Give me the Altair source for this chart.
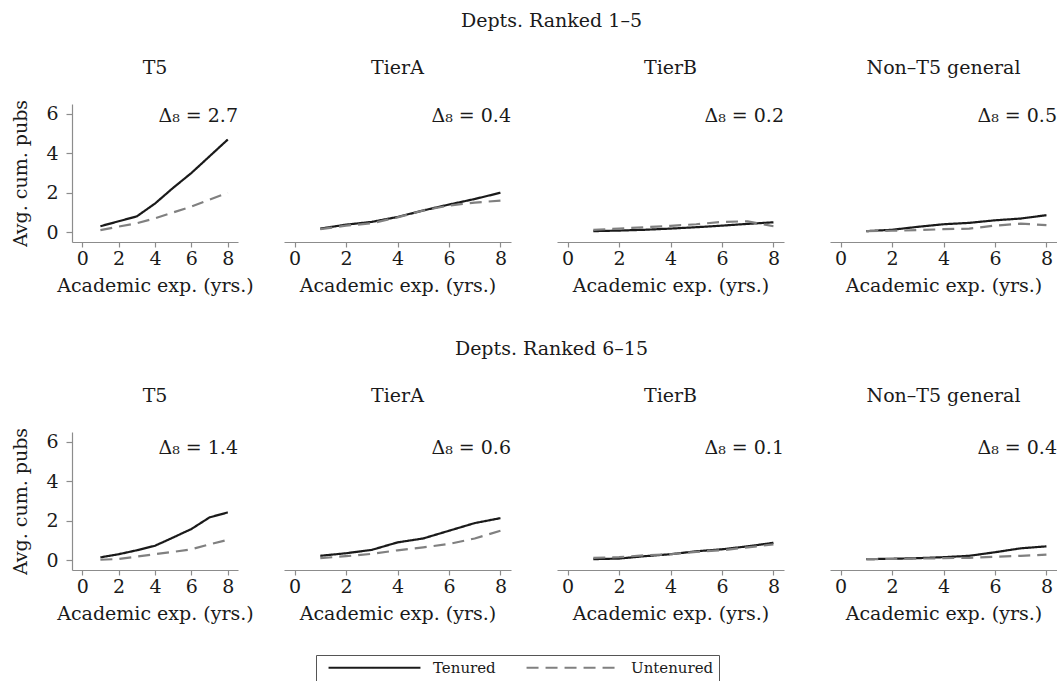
import altair as alt
import pandas as pd

years = [1, 2, 3, 4, 5, 6, 7, 8]
group_titles = ["Depts. Ranked 1–5", "Depts. Ranked 6–15"]
panel_titles = ["T5", "TierA", "TierB", "Non–T5 general"]
status_labels = ["Tenured", "Untenured"]
x_ticks = [0, 2, 4, 6, 8]
y_ticks = [0, 2, 4, 6]

# Depts. Ranked 1-5
top_t5_ten = [0.30, 0.55, 0.80, 1.45, 2.25, 3.00, 3.85, 4.70]
top_t5_unt = [0.10, 0.28, 0.45, 0.70, 1.00, 1.30, 1.65, 2.00]
top_ta_ten = [0.18, 0.38, 0.52, 0.77, 1.10, 1.40, 1.68, 2.00]
top_ta_unt = [0.15, 0.33, 0.45, 0.75, 1.10, 1.35, 1.50, 1.60]
top_tb_ten = [0.05, 0.08, 0.12, 0.18, 0.25, 0.33, 0.42, 0.50]
top_tb_unt = [0.12, 0.18, 0.25, 0.32, 0.40, 0.52, 0.55, 0.30]
top_ng_ten = [0.05, 0.12, 0.27, 0.40, 0.47, 0.60, 0.69, 0.86]
top_ng_unt = [0.05, 0.07, 0.10, 0.15, 0.18, 0.33, 0.43, 0.36]
top_deltas = ["2.7", "0.4", "0.2", "0.5"]

# Depts. Ranked 6-15
mid_t5_ten = [0.14, 0.30, 0.50, 0.73, 1.15, 1.58, 2.17, 2.42]
mid_t5_unt = [0.02, 0.06, 0.18, 0.30, 0.42, 0.55, 0.80, 1.03]
mid_ta_ten = [0.22, 0.35, 0.52, 0.90, 1.10, 1.49, 1.88, 2.13]
mid_ta_unt = [0.10, 0.20, 0.32, 0.50, 0.65, 0.82, 1.10, 1.49]
mid_tb_ten = [0.05, 0.08, 0.20, 0.30, 0.45, 0.55, 0.70, 0.88]
mid_tb_unt = [0.12, 0.15, 0.25, 0.30, 0.42, 0.50, 0.65, 0.80]
mid_ng_ten = [0.05, 0.07, 0.10, 0.15, 0.22, 0.40, 0.60, 0.70]
mid_ng_unt = [0.05, 0.06, 0.08, 0.10, 0.12, 0.17, 0.22, 0.28]
mid_deltas = ["1.4", "0.6", "0.1", "0.4"]

FONT = "DejaVu Serif"
TXT = "#1a1a1a"
AX = "#8c8c8c"

legend = alt.Legend(
    title=None, orient="none", legendX=244, legendY=551, direction="horizontal",
    symbolType="M-8,0H8", symbolSize=132, symbolStrokeWidth=2.2,
    symbolOffset=46, labelOffset=51, labelFontSize=15, labelFont=FONT, labelColor=TXT,
    strokeColor="#555555", padding=5, columnPadding=23,
)


def panel(ten, unt, title, delta, first, label_y):
    df = pd.DataFrame({
        "year": years + years,
        "pubs": ten + unt,
        "status": [status_labels[0]] * len(years) + [status_labels[1]] * len(years),
    })
    w = 166 if first else 227
    dom = [-0.56, 8.56] if first else [-0.41, 8.41]
    if first:
        y_enc = alt.Y("pubs:Q", scale=alt.Scale(domain=[-0.5, 6.5], nice=False, zero=False),
                      axis=alt.Axis(values=y_ticks, title="Avg. cum. pubs", tickSize=6,
                                    labelPadding=8, titlePadding=15))
    else:
        y_enc = alt.Y("pubs:Q", scale=alt.Scale(domain=[-0.5, 6.5], nice=False, zero=False), axis=None)
    lines = alt.Chart(df).mark_line(strokeWidth=2.2).encode(
        x=alt.X("year:Q", scale=alt.Scale(domain=dom, nice=False, zero=False),
                axis=alt.Axis(values=x_ticks, title="Academic exp. (yrs.)", tickSize=5,
                              labelPadding=2, titlePadding=8)),
        y=y_enc,
        color=alt.Color("status:N", scale=alt.Scale(domain=status_labels, range=["#1a1a1a", "#808080"]),
                        legend=legend),
        strokeDash=alt.StrokeDash("status:N", scale=alt.Scale(domain=status_labels, range=[[1, 0], [12, 7]]),
                                  legend=legend),
    )
    lab = alt.Chart(pd.DataFrame({"t": ["Δ₈ = " + delta]})).mark_text(
        align="right", baseline="alphabetic", font=FONT, fontSize=19, color=TXT
    ).encode(x=alt.value(w), y=alt.value(label_y), text="t:N")
    return alt.layer(lines, lab).properties(
        width=w, height=138,
        title=alt.Title(title, offset=7, baseline="bottom", dy=5 if first else 0),
    )


rows = []
for gi, (gt, data, deltas, ly) in enumerate([
    (group_titles[0], [(top_t5_ten, top_t5_unt), (top_ta_ten, top_ta_unt), (top_tb_ten, top_tb_unt), (top_ng_ten, top_ng_unt)], top_deltas, 18),
    (group_titles[1], [(mid_t5_ten, mid_t5_unt), (mid_ta_ten, mid_ta_unt), (mid_tb_ten, mid_tb_unt), (mid_ng_ten, mid_ng_unt)], mid_deltas, 22),
]):
    panels = [panel(d[0], d[1], panel_titles[i], deltas[i], i == 0, ly) for i, d in enumerate(data)]
    rows.append(alt.hconcat(*panels, spacing=46, bounds="flush").properties(
        title=alt.Title(gt, anchor="middle", offset=9, baseline="bottom", dx=17)))

chart = alt.vconcat(*rows, spacing=45).properties(
    padding={"left": 11, "top": 12, "right": 0, "bottom": 0}
).configure(font=FONT).configure_view(stroke=None).configure_axis(
    grid=False, domainColor=AX, tickColor=AX, domainWidth=1.2, tickWidth=1.2,
    labelFont=FONT, labelFontSize=19, labelColor=TXT,
    titleFont=FONT, titleFontSize=19, titleFontWeight="normal", titleColor=TXT,
).configure_title(font=FONT, fontSize=19, fontWeight="normal", color=TXT)

chart.save("out.html", embed_options={"renderer": "svg", "actions": False})
